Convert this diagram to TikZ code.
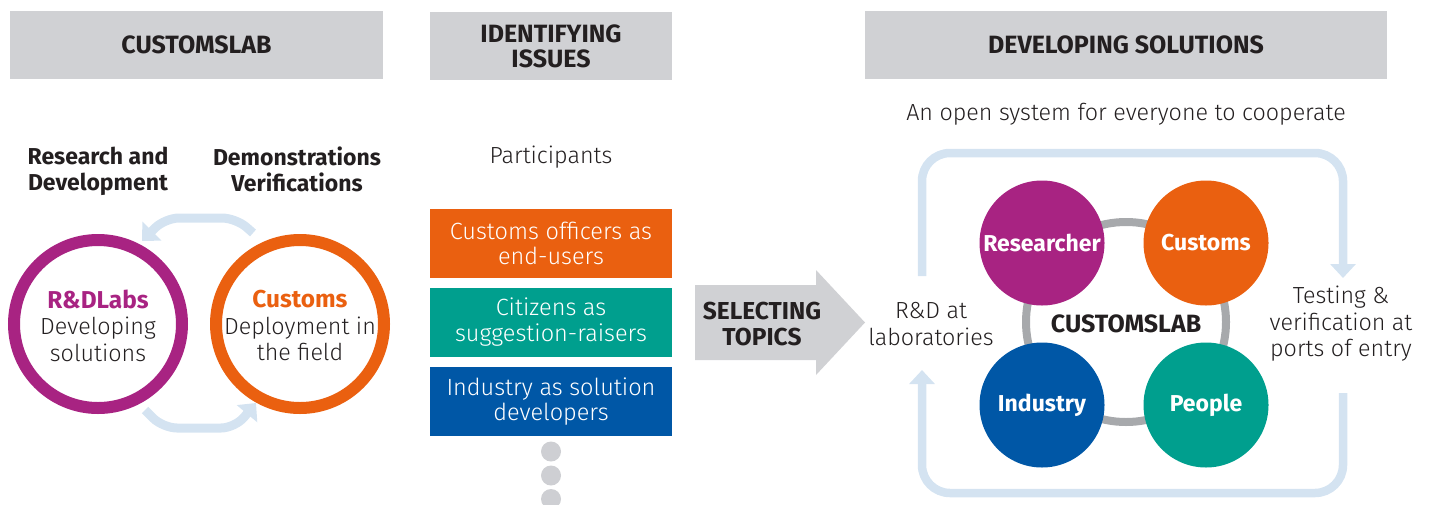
\documentclass[tikz,border=0pt]{standalone}
\usepackage{fontspec}
\setmainfont{Fira Sans}[UprightFont=* Light, BoldFont=* Bold]
\newfontfamily\headfont{Fira Sans}[UprightFont=* Bold, BoldFont=* Bold]
\usetikzlibrary{arrows.meta}
\definecolor{hdrgray}{HTML}{D0D1D4}
\definecolor{lblue}{HTML}{D4E3F1}
\definecolor{cpurple}{HTML}{A82382}
\definecolor{corange}{HTML}{EA6010}
\definecolor{cteal}{HTML}{009F8E}
\definecolor{cblue}{HTML}{0057A6}
\definecolor{ringgray}{HTML}{A7A9AC}
\definecolor{dotgray}{HTML}{CECFD3}
\definecolor{txt}{HTML}{231F20}
\tikzset{
  hdr/.style={fill=hdrgray, inner sep=0pt, align=center, text=txt,
    font=\headfont\fontsize{25}{25}\selectfont},
  body/.style={inner sep=0pt, align=center, text=txt, font=\fontsize{23.3}{26.5}\selectfont},
  bodybold/.style={inner sep=0pt, align=center, text=txt, font=\headfont\fontsize{23}{26}\selectfont},
  partbox/.style={inner sep=0pt, align=center, text=white, minimum width=242pt, minimum height=69pt,
    font=\fontsize{23.5}{25.5}\selectfont},
  ringcirc/.style={circle, line width=12pt, minimum size=168pt, inner sep=0pt, align=center, text=txt,
    font=\fontsize{23}{26.5}\selectfont},
  bigcirc/.style={circle, minimum size=125pt, inner sep=0pt, text=white,
    font=\headfont\fontsize{23}{23}\selectfont},
  dotc/.style={circle, fill=dotgray, minimum size=20pt, inner sep=0pt},
  loop/.style={draw=lblue, line width=8.5pt, rounded corners=28pt,
    -{Triangle[width=25pt,length=14pt]}},
  cyc/.style={draw=lblue, line width=9pt, rounded corners=14pt,
    -{Triangle[width=26pt,length=14pt]}},
}
\begin{document}
\begin{tikzpicture}[x=1pt,y=-1pt]
\useasboundingbox (0,0) rectangle (1431,504);
% headers
\node[hdr, minimum width=373pt, minimum height=68pt] (h1) at (196.5,45) {CUSTOMSLAB};
\node[hdr, minimum width=242pt, minimum height=68pt] (h2) at (551,46) {IDENTIFYING\\ISSUES};
\node[hdr, minimum width=522pt, minimum height=68pt] (h3) at (1126,45) {DEVELOPING SOLUTIONS};
% left column
\node[bodybold] (rd) at (98,171) {Research and\\Development};
\node[bodybold] (dv) at (297,169) {Demonstrations\\Verifications};
\node[ringcirc, draw=cpurple] (lab) at (98,324) {};
\node[ringcirc, draw=corange] (cus) at (300,324) {};
\node[body] (labt) at (98,325.5) {{\headfont\fontsize{24.4}{26}\selectfont\color{cpurple}R\&DLabs}\\Developing\\solutions};
\node[body] (cust) at (300,325.5) {{\headfont\fontsize{24.4}{26}\selectfont\color{corange}Customs}\\Deployment in\\the field};
\coordinate (a1s) at (253,233);
\coordinate (a1e) at (142,241);
\coordinate (a2s) at (145,410);
\coordinate (a2e) at (256,403);
\draw[cyc] (a1s) -- (236,218) -- (165,218) -- (a1e);
\draw[cyc] (a2s) -- (163,428) -- (235,428) -- (a2e);
% middle column
\node[body] (part) at (551,157) {Participants};
\node[partbox, fill=corange] (p1) at (551,243.5) {Customs officers as\\end-users};
\node[partbox, fill=cteal] (p2) at (551,322) {Citizens as\\suggestion-raisers};
\node[partbox, fill=cblue] (p3) at (551,401.5) {Industry as solution\\developers};
\node[dotc] (d1) at (551,451.5) {};
\node[dotc] (d2) at (551,475.5) {};
\node[dotc] (d3) at (551,499) {};
% selecting topics arrow
\fill[hdrgray] (695,285) -- (816,285) -- (816,270) -- (865,322.5) -- (816,375) -- (816,360) -- (695,360) -- cycle;
\node[bodybold, font=\headfont\fontsize{24.5}{26}\selectfont] (sel) at (762,324) {SELECTING\\TOPICS};
% right part
\node[body] (open) at (1126,114) {An open system for everyone to cooperate};
\node[circle, draw=ringgray, line width=8pt, minimum size=200pt, inner sep=0pt] (ring) at (1126,322) {};
\node[bigcirc, fill=cpurple] (res) at (1042,243) {Researcher};
\node[bigcirc, fill=corange] (cu2) at (1206,243) {Customs};
\node[bigcirc, fill=cblue] (ind) at (1042,405) {Industry};
\node[bigcirc, fill=cteal] (peo) at (1206,405) {People};
\node[bodybold, font=\headfont\fontsize{25}{26}\selectfont] (cl) at (1126,324) {CUSTOMSLAB};
\node[body] (rdl) at (931,324) {R\&D at\\laboratories};
\node[body] (test) at (1341,324) {Testing \&\\verification at\\ports of entry};
\coordinate (l1s) at (922,276);
\coordinate (l1e) at (1343,278);
\coordinate (l2s) at (1343,393);
\coordinate (l2e) at (922,370);
\draw[loop] (l1s) -- (922,153) -- (1343,153) -- (l1e);
\draw[loop] (l2s) -- (1343,493) -- (922,493) -- (l2e);
\end{tikzpicture}
\end{document}
